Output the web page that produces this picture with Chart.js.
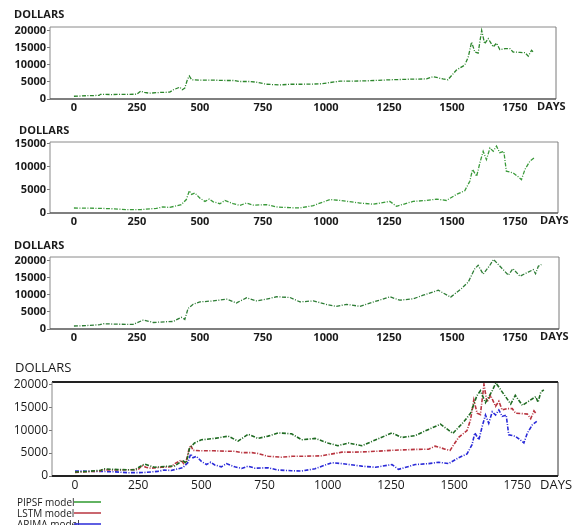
<!DOCTYPE html>
<html>
<head>
<meta charset="utf-8">
<script src="https://cdn.jsdelivr.net/npm/chart.js@4.4.1/dist/chart.umd.min.js"></script>
<style>
  html, body { margin: 0; padding: 0; background: #fff; width: 572px; height: 525px; overflow: hidden; }
  canvas { position: absolute; left: 0; }
</style>
</head>
<body>
<canvas id="p1" width="572" height="115" style="top:0px"></canvas>
<canvas id="p2" width="572" height="114" style="top:115px"></canvas>
<canvas id="p3" width="572" height="116" style="top:229px"></canvas>
<canvas id="p4" width="572" height="180" style="top:345px"></canvas>
<script>
// Axis ticks
const dayTicks = [0, 250, 500, 750, 1000, 1250, 1500, 1750];
const dollarTicks20k = [0, 5000, 10000, 15000, 20000];
const dollarTicks15k = [0, 5000, 10000, 15000];

// LSTM model forecast (dollars by day)
const lstmDays = [0, 50, 100, 105, 150, 200, 250, 265, 280, 300, 340, 380, 395, 420, 430, 440, 450, 458, 467, 500,
  550, 600, 632, 660, 700, 724, 764, 817, 860, 900, 976, 1056, 1100, 1161, 1254, 1300, 1346, 1399, 1425, 1445,
  1464, 1484, 1518, 1551, 1565, 1578, 1591, 1604, 1618, 1630, 1644, 1664, 1677, 1690, 1710, 1730, 1743, 1770,
  1790, 1803, 1816, 1823];
const lstmValues = [800, 950, 1050, 1350, 1300, 1350, 1400, 2300, 1900, 1700, 1900, 2000, 2700, 3450, 2700, 3200, 5600, 6700, 5600, 5500,
  5500, 5400, 5400, 5100, 5100, 4900, 4300, 4100, 4300, 4300, 4400, 5200, 5200, 5300, 5600, 5700, 5800, 5850, 6500, 6200,
  5850, 5600, 8450, 9900, 12300, 16600, 13700, 13400, 20000, 16100, 17600, 15200, 16300, 14400, 14700, 14700, 13700, 13600,
  13500, 12500, 14200, 13700];

// ARIMA model forecast
const arimaDays = [0, 103, 160, 209, 268, 327, 353, 380, 426, 446, 458, 467, 480, 500, 520, 537, 553, 579, 599, 632,
  659, 685, 712, 764, 804, 857, 897, 950, 1016, 1056, 1135, 1188, 1254, 1280, 1346, 1399, 1439, 1478, 1518, 1551,
  1571, 1582, 1598, 1611, 1624, 1637, 1651, 1664, 1677, 1690, 1706, 1716, 1743, 1763, 1776, 1790, 1810, 1827];
const arimaValues = [1080, 1000, 900, 720, 750, 1000, 1300, 1200, 1800, 2900, 4800, 4000, 4300, 3200, 2500, 3000, 2400, 2000, 2700, 2000,
  1650, 2150, 1700, 1800, 1300, 1150, 1080, 1600, 2900, 2700, 2150, 1900, 2500, 1450, 2500, 2700, 3000, 2700, 4000, 4800,
  6850, 9400, 7900, 10800, 13300, 11500, 14000, 13300, 14400, 13000, 13300, 9000, 8650, 7800, 7200, 9400, 11200, 11900];

// PIPSF model forecast
const pipsfDays = [0, 50, 103, 116, 170, 235, 275, 315, 360, 394, 426, 440, 453, 473, 500, 553, 606, 645, 685, 724,
  764, 804, 857, 897, 950, 1000, 1040, 1082, 1135, 1190, 1254, 1293, 1346, 1386, 1446, 1495, 1538, 1565, 1590, 1604,
  1624, 1650, 1665, 1724, 1742, 1770, 1803, 1823, 1832, 1843, 1855];
const pipsfValues = [870, 1000, 1250, 1550, 1400, 1350, 2600, 1900, 2100, 2200, 3400, 2800, 6000, 7200, 7900, 8200, 8700, 7600, 9100, 8200,
  8700, 9400, 9200, 7900, 8200, 7200, 6600, 7200, 6600, 7900, 9400, 8400, 8800, 9850, 11300, 9300, 11800, 13700, 17500, 18600,
  16000, 18500, 20300, 15700, 17600, 15400, 16600, 17300, 16100, 18300, 18800];

const toPoints = (days, values) => days.map((d, i) => ({ x: d, y: values[i] }));

// Frame, axis captions and legend drawn on top of each panel
const decor = {
  id: 'decor',
  afterDraw(chart, args, o) {
    const { ctx, chartArea: a } = chart;
    ctx.save();
    const side = (s, x1, y1, x2, y2) => {
      ctx.beginPath();
      ctx.strokeStyle = s.c;
      ctx.lineWidth = s.w;
      ctx.moveTo(x1, y1);
      ctx.lineTo(x2, y2);
      ctx.stroke();
    };
    side(o.top, a.left, a.top, a.right, a.top);
    side(o.right, a.right, a.top, a.right, a.bottom);
    side(o.left, a.left, a.top, a.left, a.bottom);
    side(o.bottom, a.left, a.bottom, a.right, a.bottom);

    ctx.fillStyle = '#1a1a1a';
    ctx.font = o.captionFont;
    ctx.textBaseline = 'middle';
    ctx.textAlign = 'left';
    ctx.fillText('DOLLARS', o.dollarsX, a.top + o.dollarsDy);
    ctx.fillText('DAYS', o.daysX, a.bottom + o.daysDy);

    if (o.legend) {
      ctx.font = o.legend.font;
      o.legend.items.forEach((it, i) => {
        const y = o.legend.y + i * o.legend.gap;
        ctx.fillStyle = '#1a1a1a';
        ctx.fillText(it.text, o.legend.x, y);
        ctx.beginPath();
        ctx.strokeStyle = it.color;
        ctx.lineWidth = 1.5;
        ctx.moveTo(o.legend.lineX1, y - 1);
        ctx.lineTo(o.legend.lineX2, y - 1);
        ctx.stroke();
      });
    }
    ctx.restore();
  }
};

const plain = v => String(v);

function panel(id, datasets, p) {
  return new Chart(document.getElementById(id), {
    type: 'line',
    data: { datasets },
    plugins: [decor],
    options: {
      responsive: false,
      animation: false,
      devicePixelRatio: 1,
      events: [],
      layout: { padding: p.padding },
      elements: { point: { radius: 0 }, line: { tension: 0, borderWidth: p.lineWidth, borderDash: [4, 1.5, 1, 1.5] } },
      plugins: {
        legend: { display: false },
        tooltip: { enabled: false },
        decor: p.decor
      },
      scales: {
        x: {
          type: 'linear',
          min: p.xMin, max: p.xMax,
          afterBuildTicks: s => { s.ticks = dayTicks.map(v => ({ value: v })); },
          afterFit: s => { s.height = p.xHeight; },
          grid: { display: false, drawTicks: false },
          border: { display: false },
          ticks: { color: '#1a1a1a', font: p.tickFont, padding: p.xPad, maxRotation: 0, autoSkip: false, callback: plain }
        },
        y: {
          min: 0, max: p.yMax,
          afterBuildTicks: s => { s.ticks = p.yTicks.map(v => ({ value: v })); },
          afterFit: s => { s.width = p.yWidth; },
          grid: { display: true, drawOnChartArea: false, drawTicks: true, tickLength: 3, color: '#777' },
          border: { display: false },
          ticks: { color: '#1a1a1a', font: p.tickFont, padding: 1, callback: plain }
        }
      }
    }
  });
}

const smallTick = { family: 'Open Sans', size: 11, weight: '700' };
const smallCaption = '700 11px "Open Sans"';
const thinFrame = { top: { c: '#8a8a8a', w: 1 }, right: { c: '#7a7a7a', w: 1 }, left: { c: '#8a8a8a', w: 1 }, bottom: { c: '#555', w: 1.5 } };

// LSTM
panel('p1', [
  { data: toPoints(lstmDays, lstmValues), borderColor: '#2c862c' }
], {
  padding: { top: 27, right: 16, left: 0, bottom: 0 },
  xMin: -95, xMax: 1913, yMax: 21000, yTicks: dollarTicks20k, lineWidth: 1.3,
  xHeight: 16, yWidth: 50, xPad: 2, tickFont: smallTick,
  decor: Object.assign({ captionFont: smallCaption, dollarsX: 14, dollarsDy: -12, daysX: 537, daysDy: 8 }, thinFrame)
});

// ARIMA
panel('p2', [
  { data: toPoints(arimaDays, arimaValues), borderColor: '#3a9a3a' }
], {
  padding: { top: 27, right: 14, left: 0, bottom: 0 },
  xMin: -95, xMax: 1921, yMax: 15300, yTicks: dollarTicks15k, lineWidth: 1.3,
  xHeight: 16, yWidth: 50, xPad: 2, tickFont: smallTick,
  decor: Object.assign({ captionFont: smallCaption, dollarsX: 19, dollarsDy: -11, daysX: 540, daysDy: 8 }, thinFrame)
});

// PIPSF
panel('p3', [
  { data: toPoints(pipsfDays, pipsfValues), borderColor: '#2e7d36' }
], {
  padding: { top: 28, right: 13, left: 0, bottom: 0 },
  xMin: -95, xMax: 1925, yMax: 21000, yTicks: dollarTicks20k, lineWidth: 1.3,
  xHeight: 16, yWidth: 50, xPad: 2, tickFont: smallTick,
  decor: Object.assign({ captionFont: smallCaption, dollarsX: 14, dollarsDy: -11, daysX: 540, daysDy: 8 }, thinFrame)
});

// All three models together
panel('p4', [
  { data: toPoints(pipsfDays, pipsfValues), borderColor: '#1f6b22' },
  { data: toPoints(lstmDays, lstmValues), borderColor: '#b8343f' },
  { data: toPoints(arimaDays, arimaValues), borderColor: '#2a2ad8' }
], {
  padding: { top: 37, right: 14, left: 0, bottom: 31 },
  xMin: -91, xMax: 1911, yMax: 20500, yTicks: dollarTicks20k, lineWidth: 1.6,
  xHeight: 18, yWidth: 52, xPad: 2, tickFont: { family: 'Open Sans', size: 12, weight: '400' },
  decor: {
    top: { c: '#222', w: 2 }, right: { c: '#333', w: 1 }, left: { c: '#888', w: 1 }, bottom: { c: '#222', w: 2 },
    captionFont: '400 13px "Open Sans"', dollarsX: 15, dollarsDy: -14, daysX: 540, daysDy: 9,
    legend: {
      font: '400 10px "Open Sans"', x: 17, y: 158, gap: 11, lineX1: 74, lineX2: 101,
      items: [
        { text: 'PIPSF model', color: '#2e9a2e' },
        { text: 'LSTM model', color: '#b8343f' },
        { text: 'ARIMA model', color: '#2a2ad8' }
      ]
    }
  }
});
</script>
</body>
</html>
